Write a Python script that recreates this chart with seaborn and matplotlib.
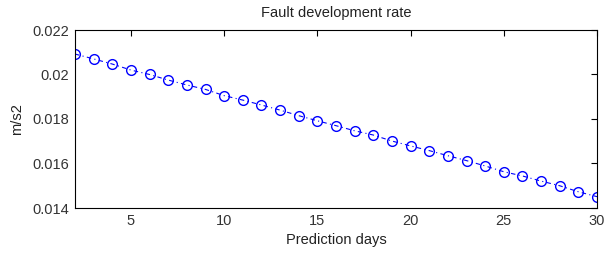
import matplotlib
matplotlib.use("Agg")
import matplotlib.pyplot as plt
import seaborn as sns
import pandas as pd

days = list(range(2, 31))
rate = [0.02092, 0.0207, 0.02047, 0.0202, 0.0200, 0.01975, 0.01953, 0.01933,
        0.01905, 0.01885, 0.01863, 0.0184, 0.01815, 0.01792, 0.0177, 0.01747,
        0.01728, 0.01701, 0.01679, 0.01658, 0.01635, 0.01613, 0.01589, 0.01563,
        0.01544, 0.01521, 0.015, 0.01473, 0.01451]
xticks = [5, 10, 15, 20, 25, 30]
yticks = [0.014, 0.016, 0.018, 0.02, 0.022]
ytick_labels = ["0.014", "0.016", "0.018", "0.02", "0.022"]

sns.set_style("white")
plt.rcParams['font.family'] = ['Liberation Sans', 'DejaVu Sans']

df = pd.DataFrame({"day": days, "rate": rate})
fig = plt.figure(figsize=(6.05, 2.58), dpi=100)
ax = fig.add_axes([75/605, 1-208/258, (597-75)/605, (208-30)/258])
sns.lineplot(data=df, x="day", y="rate", ax=ax, color="#0000ff",
             linewidth=0.8, marker="o", markersize=7, markerfacecolor="none",
             markeredgecolor="#0000ff", markeredgewidth=1.0)
ax.lines[0].set_dashes([4, 3, 1, 3])
ax.set_xlim(2, 30)
ax.set_ylim(0.014, 0.022)
ax.set_xticks(xticks)
ax.set_xticklabels([str(t) for t in xticks])
ax.set_yticks(yticks)
ax.set_yticklabels(ytick_labels)
ax.tick_params(direction="in", length=4, width=0.8, top=True, right=True,
               labelsize=10.5, colors="black", labelcolor="#333333", pad=4)
for s in ax.spines.values():
    s.set_visible(True)
    s.set_color("black")
    s.set_linewidth(0.8)
ax.set_xlabel("Prediction days", fontsize=10.5, labelpad=4, color="#222222")
ax.set_ylabel("m/s2", fontsize=10.5, labelpad=6, color="#222222")
ax.set_title("Fault development rate", fontsize=10.5, pad=9, color="#222222")
fig.savefig("out.png", dpi=100)
